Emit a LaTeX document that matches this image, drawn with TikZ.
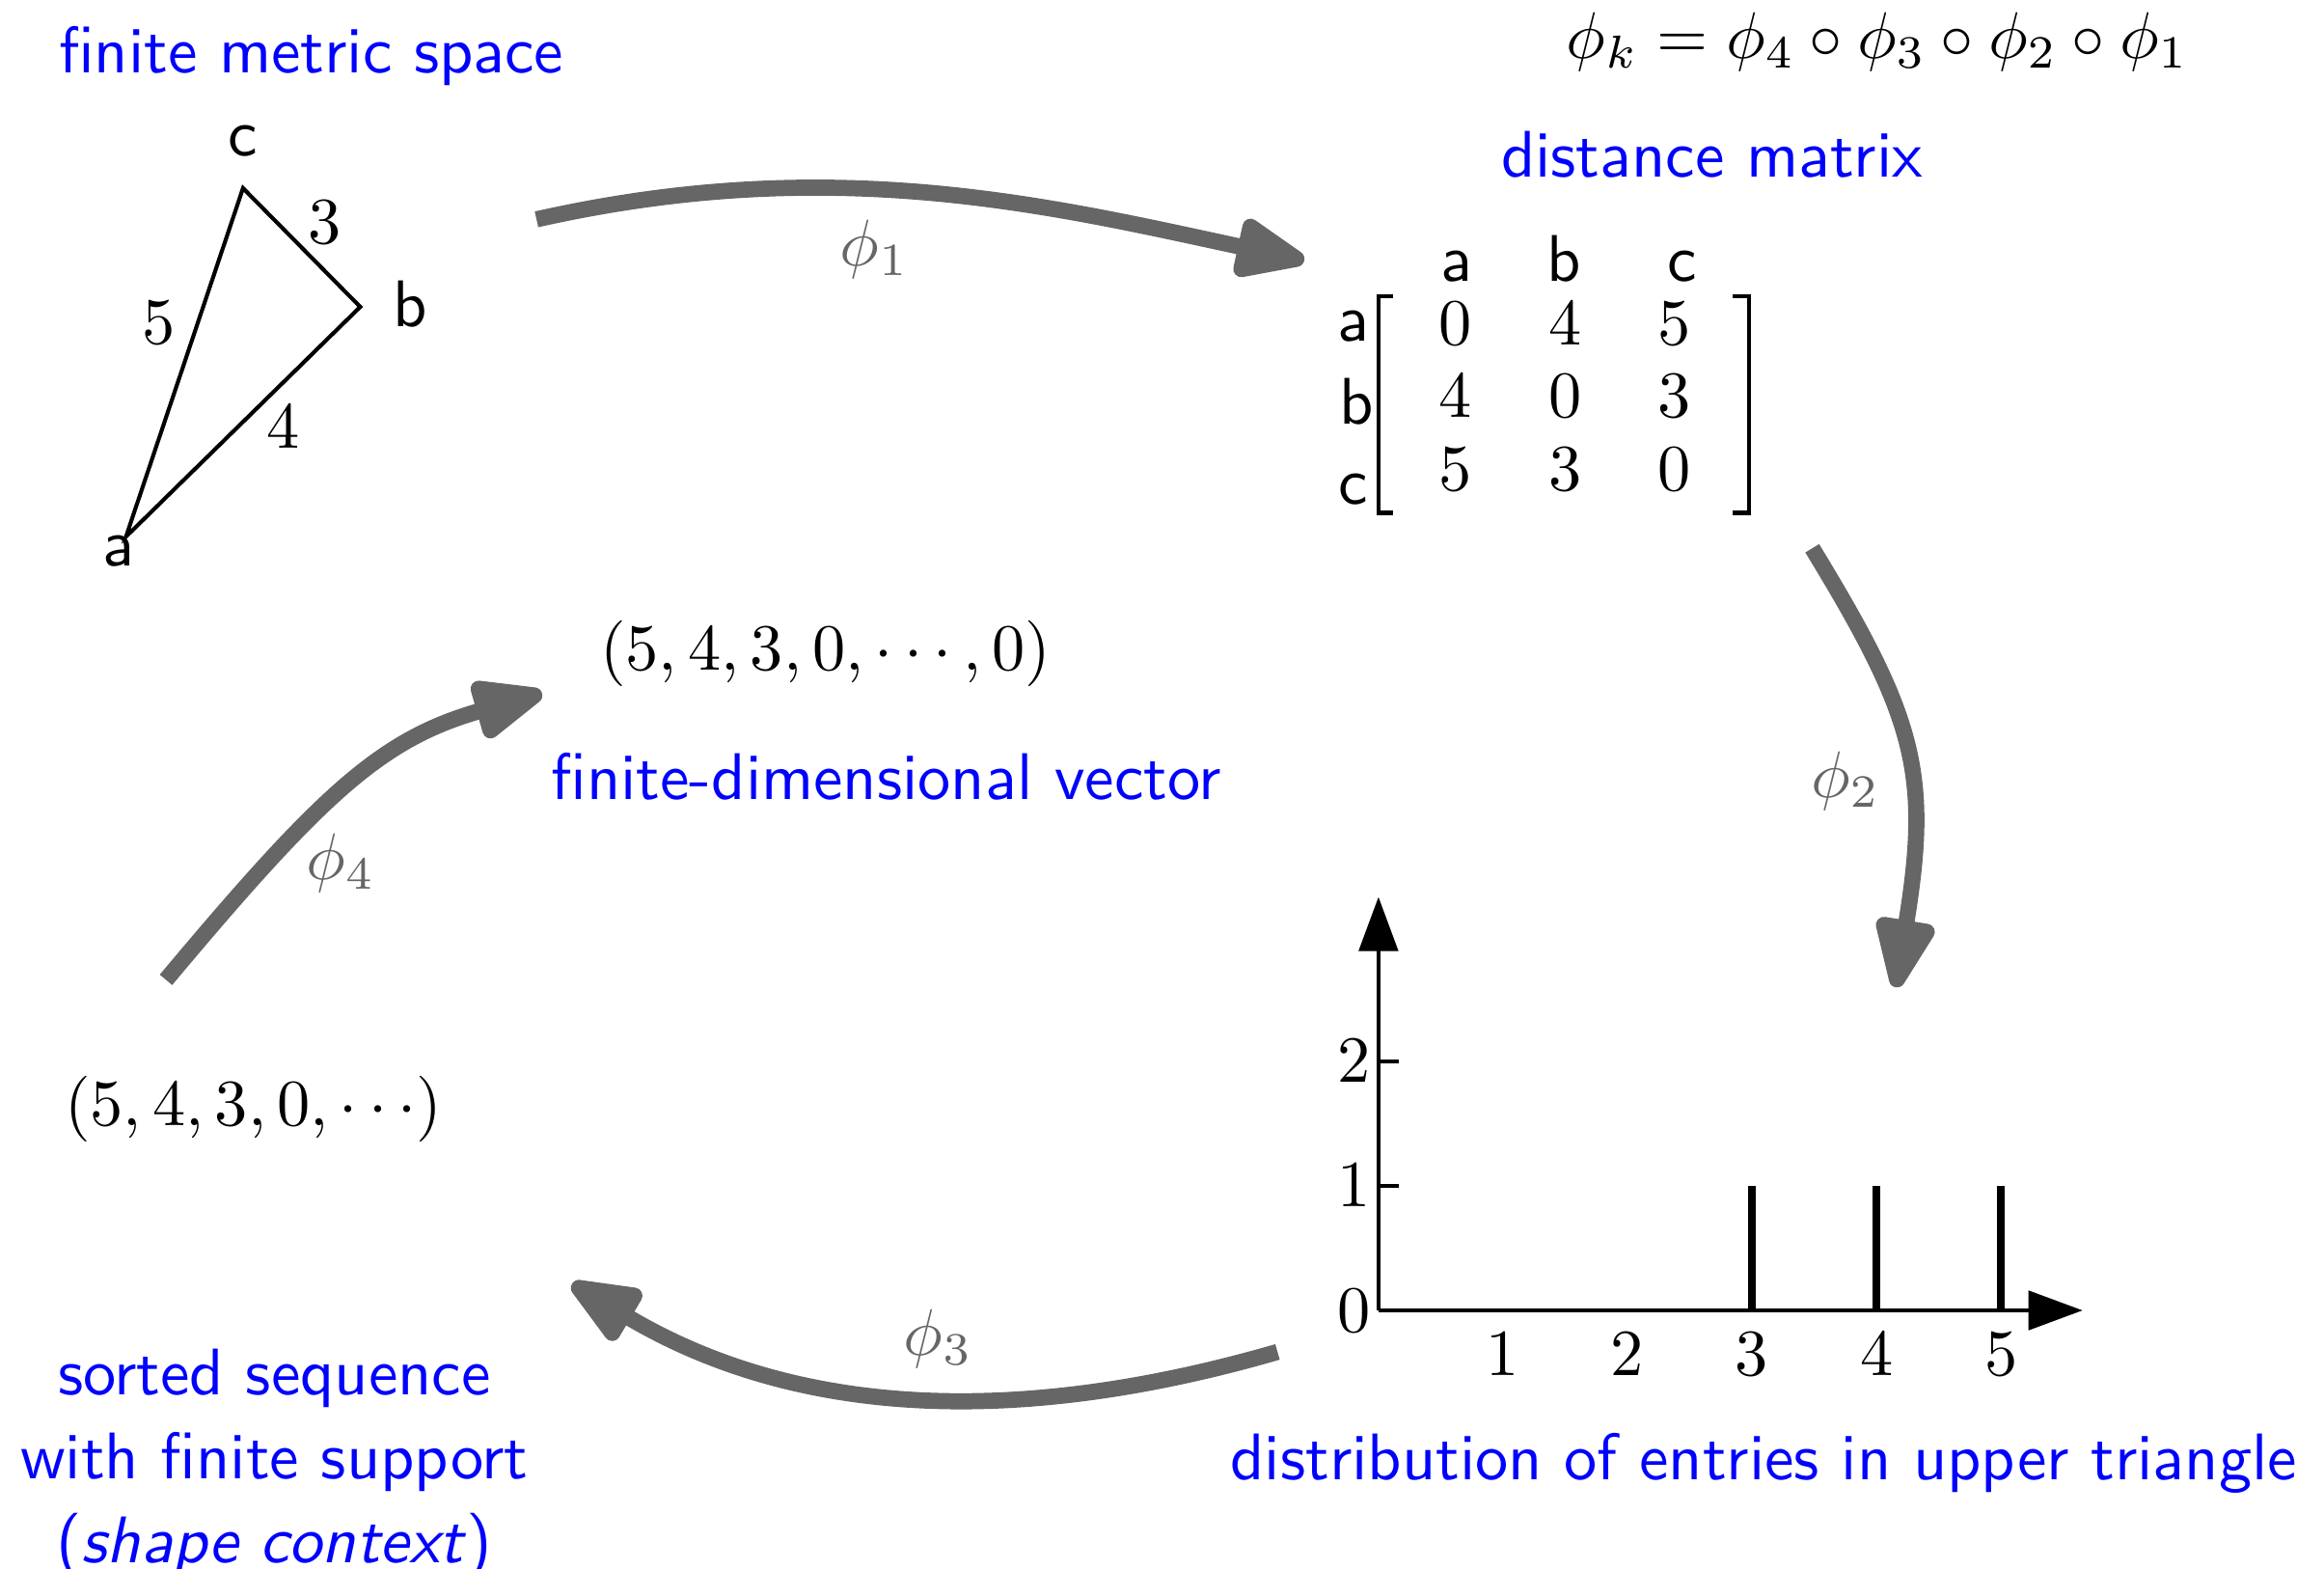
\documentclass[tikz,border=0pt]{standalone}
\usetikzlibrary{arrows.meta}
\begin{document}
\begin{tikzpicture}[>=stealth,scale=0.885,
    lbl/.style={color=blue,font=\sffamily},
    map/.style={line width=2.45pt,color=black!60,-{Triangle[round,length=12.5pt,width=9.5pt]}},
    maplbl/.style={color=black!60},
    axis/.style={semithick,-{Triangle[length=8.2pt,width=5.9pt]}}]
    \useasboundingbox (0,0) rectangle (14,9.446);

    % metric space
    \node[lbl] (tmet) at (1.875,9.107) {finite metric space};
    \coordinate (a) at (0.759,6.214);
    \coordinate (b) at (2.170,7.598);
    \coordinate (c) at (1.464,8.313);
    \draw[semithick] (a) -- (b) -- (c) -- cycle;
    \node[font=\sffamily] (la) at (0.714,6.125) {a};
    \node[font=\sffamily] (lb) at (2.473,7.616) {b};
    \node[font=\sffamily] (lc) at (1.464,8.598) {c};
    \node (e3) at (1.955,8.107) {$3$};
    \node (e5) at (0.955,7.5) {$5$};
    \node (e4) at (1.705,6.875) {$4$};

    % composition
    \node (phik) at (11.31,9.196) {$\phi_k = \phi_4\circ\phi_3\circ\phi_2\circ\phi_1$};

    % distance matrix
    \node[lbl,anchor=base] (tdist) at (10.313,8.38) {distance matrix};
    \node[font=\sffamily,anchor=base] (ca) at (8.777,7.754) {a};
    \node[font=\sffamily,anchor=base] (cb) at (9.42,7.754) {b};
    \node[font=\sffamily,anchor=base] (cc) at (10.134,7.754) {c};
    \node[font=\sffamily,anchor=base] (ra) at (8.152,7.39) {a};
    \node[font=\sffamily,anchor=base] (rb) at (8.17,6.89) {b};
    \node[font=\sffamily,anchor=base] (rc) at (8.152,6.41) {c};
    \node[anchor=base] (m11) at (8.768,7.37) {$0$};
    \node[anchor=base] (m12) at (9.429,7.37) {$4$};
    \node[anchor=base] (m13) at (10.089,7.37) {$5$};
    \node[anchor=base] (m21) at (8.768,6.93) {$4$};
    \node[anchor=base] (m22) at (9.429,6.93) {$0$};
    \node[anchor=base] (m23) at (10.089,6.93) {$3$};
    \node[anchor=base] (m31) at (8.768,6.49) {$5$};
    \node[anchor=base] (m32) at (9.429,6.49) {$3$};
    \node[anchor=base] (m33) at (10.089,6.49) {$0$};
    \draw[semithick] (8.394,7.661) -- (8.304,7.661) -- (8.304,6.357) -- (8.394,6.357);
    \draw[semithick] (10.44,7.661) -- (10.536,7.661) -- (10.536,6.357) -- (10.44,6.357);

    % histogram
    \begin{scope}[shift={(8.304,1.554)},scale=0.75]
        \coordinate (o) at (0,0);
        \coordinate (xe) at (5.655,0);
        \coordinate (ye) at (0,3.32);
        \draw[axis] (o) -- (xe);
        \draw[axis] (o) -- (ye);
        \draw[semithick] (0,1) -- (0.167,1);
        \draw[semithick] (0,2) -- (0.167,2);
        \node (y0) at (-0.2,0) {$0$};
        \node (y1) at (-0.2,1) {$1$};
        \node (y2) at (-0.2,2) {$2$};
        \node (x1) at (1,-0.35) {$1$};
        \node (x2) at (2,-0.35) {$2$};
        \node (x3) at (3,-0.35) {$3$};
        \node (x4) at (4,-0.35) {$4$};
        \node (x5) at (5,-0.35) {$5$};
        \draw[line width=1.2pt] (3,0) -- (3,1);
        \draw[line width=1.2pt] (4,0) -- (4,1);
        \draw[line width=1.2pt] (5,0) -- (5,1);
    \end{scope}
    \node[lbl] (tdistr) at (10.625,0.634) {distribution of entries in upper triangle};

    % sequences
    \node (vec) at (4.973,5.509) {$(5,4,3,0,\cdots,0)$};
    \node[lbl] (tvec) at (5.339,4.768) {finite-dimensional vector};
    \node (seq) at (1.527,2.768) {$(5,4,3,0,\cdots)$};
    \node[lbl,align=center,font=\sffamily\fontsize{10}{12.7}\selectfont] (tseq) at (1.652,0.628) {sorted sequence\\with finite support\\(\textit{shape context})};

    % maps
    \coordinate (p1s) at (3.232,8.125);
    \coordinate (p1e) at (7.857,7.877);
    \coordinate (p2s) at (10.917,6.144);
    \coordinate (p2e) at (11.42,3.5);
    \coordinate (p3s) at (7.696,1.304);
    \coordinate (p3e) at (3.446,1.714);
    \coordinate (p4s) at (1.0,3.545);
    \coordinate (p4e) at (3.265,5.271);
    \draw[map] (p1s) .. controls (5.0,8.523) and (6.294,8.215) .. (p1e);
    \draw[map] (p2s) .. controls (11.542,5.119) and (11.63,4.783) .. (p2e);
    \draw[map] (p3s) .. controls (6.3,0.9) and (4.9,0.85) .. (p3e);
    \draw[map] (p4s) .. controls (1.95,4.68) and (2.303,4.997) .. (p4e);
    \node[maplbl] (f1) at (5.268,7.946) {$\phi_1$};
    \node[maplbl] (f2) at (11.116,4.741) {$\phi_2$};
    \node[maplbl] (f3) at (5.652,1.384) {$\phi_3$};
    \node[maplbl] (f4) at (2.054,4.25) {$\phi_4$};
\end{tikzpicture}
\end{document}
